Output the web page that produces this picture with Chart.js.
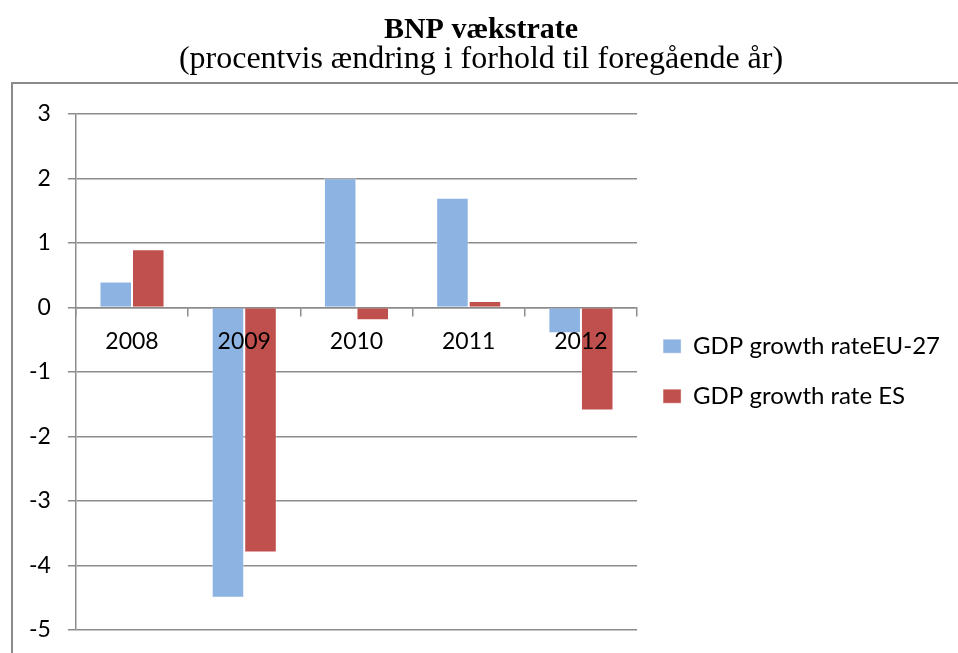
<!DOCTYPE html>
<html>
<head>
<meta charset="utf-8">
<script src="https://cdn.jsdelivr.net/npm/chart.js@4.4.0/dist/chart.umd.min.js"></script>
<style>
  html, body { margin: 0; padding: 0; background: #fff; }
  #wrap { width: 958px; height: 653px; }
</style>
</head>
<body>
<div id="wrap"><canvas id="myChart" width="958" height="653"></canvas></div>
<script>
var years = ["2008", "2009", "2010", "2011", "2012"];
var euGrowth = [0.4, -4.5, 2.0, 1.7, -0.4];
var esGrowth = [0.9, -3.8, -0.2, 0.1, -1.6];
var seriesNames = ["GDP growth rateEU-27", "GDP growth rate ES"];

var gridColor = "#8c8c8c";
var labelFont = { family: "Lato", size: 23 };

// frame round the chart, like the pasted office chart
var framePlugin = {
  id: "frame",
  beforeDraw: function (chart) {
    var c = chart.ctx;
    c.save();
    c.strokeStyle = "#8a8a8a";
    c.lineWidth = 2;
    c.strokeRect(12, 83, chart.width + 20, chart.height + 20);
    c.restore();
  },
};

var ctx = document.getElementById("myChart");

var myChart = new Chart(ctx, {
  type: "bar",
  data: {
    labels: years,
    datasets: [
      {
        label: seriesNames[0],
        data: euGrowth,
        backgroundColor: "#8db3e2",
        borderColor: "rgba(255,255,255,0.4)",
        borderWidth: 1,
        categoryPercentage: 0.58,
        barPercentage: 1.0,
      },
      {
        label: seriesNames[1],
        data: esGrowth,
        backgroundColor: "#c0504d",
        borderColor: "rgba(255,255,255,0.4)",
        borderWidth: 1,
        categoryPercentage: 0.58,
        barPercentage: 1.0,
      },
    ],
  },
  options: {
    responsive: false,
    animation: false,
    layout: {
      padding: { left: 12, right: 8, top: 0, bottom: 23 },
    },
    plugins: {
      title: {
        display: true,
        text: "BNP vækstrate",
        color: "#000",
        font: { family: "Liberation Serif", size: 30, weight: "bold", lineHeight: 1.0 },
        padding: { top: 15, bottom: 0 },
      },
      subtitle: {
        display: true,
        text: "(procentvis ændring i forhold til foregående år)",
        color: "#000",
        font: { family: "Liberation Serif", size: 32, lineHeight: 0.9 },
        padding: { top: 0, bottom: 40 },
      },
      legend: {
        position: "right",
        maxWidth: 400,
        // empty title only pushes the two items down to the middle
        title: { display: true, text: " ", font: { size: 12 }, padding: { top: 52, bottom: 46 } },
        labels: {
          color: "#000",
          font: { family: "Lato", size: 24 },
          boxWidth: 18,
          boxHeight: 14,
          padding: 26,
        },
      },
      tooltip: { enabled: false },
    },
    scales: {
      x: {
        position: { y: 0 },
        afterFit: function (scale) {
          scale.height = 0;
        },
        grid: {
          offset: true,
          drawOnChartArea: false,
          drawTicks: true,
          tickLength: 8,
          color: gridColor,
          lineWidth: 1.5,
        },
        border: { display: true, color: gridColor, width: 1.5 },
        ticks: { color: "#000", font: labelFont, padding: 12, z: 1 },
      },
      y: {
        min: -5,
        max: 3,
        afterFit: function (scale) {
          // the label gap should not add room under -5
          scale.paddingBottom = 0;
        },
        ticks: { stepSize: 1, color: "#000", font: labelFont, padding: 17 },
        grid: { color: gridColor, lineWidth: 1.5, tickLength: 8 },
        border: { display: true, color: gridColor, width: 1.5 },
      },
    },
  },
  plugins: [framePlugin],
});
</script>
</body>
</html>
